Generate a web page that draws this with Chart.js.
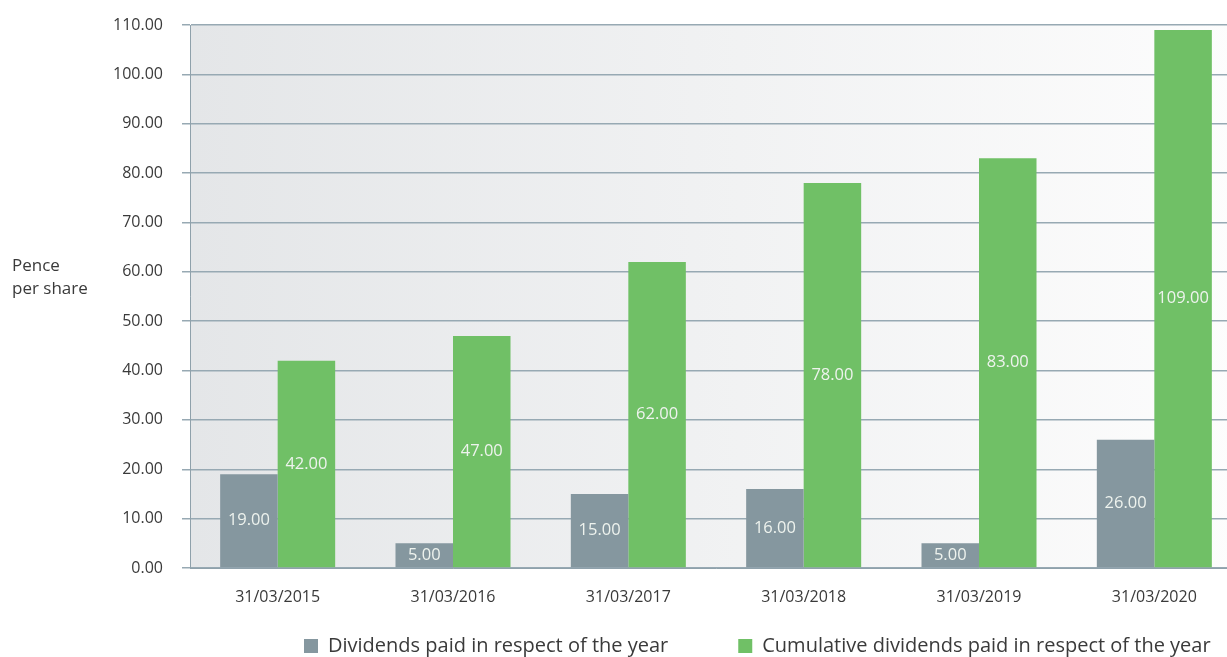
<!DOCTYPE html>
<html>
<head>
<meta charset="utf-8">
<script src="https://cdn.jsdelivr.net/npm/chart.js@4"></script>
<style>
  html, body { margin: 0; padding: 0; background: #fff; overflow: hidden; }
  #wrap { position: relative; width: 1242px; height: 657px; }
</style>
</head>
<body>
<div id="wrap"><canvas id="myChart"></canvas></div>
<script>
// Datos del gráfico
const fechas = ["31/03/2015", "31/03/2016", "31/03/2017", "31/03/2018", "31/03/2019", "31/03/2020"];
const dividendos = [19, 5, 15, 16, 5, 26];
const acumulados = [42, 47, 62, 78, 83, 109];
const nombresSeries = ["Dividends paid in respect of the year", "Cumulative dividends paid in respect of the year"];
const tituloEjeY = ["Pence", "per share"];

const fuente = "'Open Sans', sans-serif";

// Fondo degradado del área del gráfico
const fondoPlugin = {
    id: 'fondo',
    beforeDraw(chart) {
        const { ctx, chartArea: a } = chart;
        const g = ctx.createLinearGradient(a.left, 0, a.right, 0);
        g.addColorStop(0, '#e4e6e8');
        g.addColorStop(1, '#fdfdfd');
        ctx.save();
        ctx.fillStyle = g;
        ctx.fillRect(a.left, a.top, a.right - a.left, a.bottom - a.top);
        ctx.restore();
    }
};

// Etiquetas de valor dentro de cada barra
const etiquetasPlugin = {
    id: 'etiquetas',
    afterDatasetsDraw(chart) {
        const ctx = chart.ctx;
        ctx.save();
        ctx.font = "16.5px " + fuente;
        ctx.fillStyle = '#eef3ee';
        ctx.textAlign = 'center';
        ctx.textBaseline = 'middle';
        chart.data.datasets.forEach((ds, i) => {
            chart.getDatasetMeta(i).data.forEach((bar, j) => {
                ctx.fillText(ds.data[j].toFixed(2), bar.x, (bar.y + bar.base) / 2);
            });
        });
        ctx.restore();
    }
};

// Título del eje Y en horizontal
const tituloPlugin = {
    id: 'tituloY',
    afterDraw(chart) {
        const ctx = chart.ctx;
        const y60 = chart.scales.y.getPixelForValue(60);
        ctx.save();
        ctx.font = "17px " + fuente;
        ctx.fillStyle = '#3a3a3a';
        ctx.textAlign = 'left';
        ctx.textBaseline = 'middle';
        ctx.fillText(tituloEjeY[0], 12, y60 - 6);
        ctx.fillText(tituloEjeY[1], 12, y60 + 17);
        ctx.restore();
    }
};

// Mover la leyenda a su sitio
const leyendaPlugin = {
    id: 'leyendaPos',
    afterLayout(chart) {
        const lg = chart.legend;
        const pad = lg.options.labels.padding;
        lg.left = 304 - pad;
        lg.right = lg.left + 1400;
        lg.top = 646 - 10 - pad;
    }
};

const config = {
    type: 'bar',
    data: {
        labels: fechas,
        datasets: [
            { label: nombresSeries[0], data: dividendos, backgroundColor: '#85979f' },
            { label: nombresSeries[1], data: acumulados, backgroundColor: '#70c066' }
        ]
    },
    options: {
        responsive: true,
        maintainAspectRatio: false,
        animation: false,
        layout: { padding: { top: 25, right: 0, left: 0, bottom: 0 } },
        datasets: { bar: { categoryPercentage: 0.656, barPercentage: 1.0 } },
        plugins: {
            legend: {
                position: 'bottom',
                align: 'start',
                maxHeight: 40,
                labels: {
                    boxWidth: 14,
                    boxHeight: 14,
                    padding: 70,
                    color: '#3a3a3a',
                    font: { family: fuente, size: 20 }
                }
            },
            tooltip: { enabled: false }
        },
        scales: {
            x: {
                grid: { display: false, drawTicks: false },
                border: { display: true, color: '#8fa1ab' },
                ticks: { color: '#3a3a3a', padding: 20, font: { family: fuente, size: 16 } },
                afterFit(scale) { scale.height = 49; }
            },
            y: {
                min: 0,
                max: 110,
                ticks: {
                    stepSize: 10,
                    padding: 19,
                    color: '#3a3a3a',
                    font: { family: fuente, size: 16 },
                    callback: v => v.toFixed(2)
                },
                grid: { color: '#97a9b3', tickColor: '#97a9b3', tickLength: 8, lineWidth: 1.5 },
                border: { display: true, color: '#8fa1ab' },
                afterFit(scale) {
                    scale.width = 190;
                    scale.paddingTop = 0;
                }
            }
        }
    },
    plugins: [fondoPlugin, etiquetasPlugin, tituloPlugin, leyendaPlugin]
};

const ctx = document.getElementById('myChart').getContext('2d');
const myChart = new Chart(ctx, config);
</script>
</body>
</html>
